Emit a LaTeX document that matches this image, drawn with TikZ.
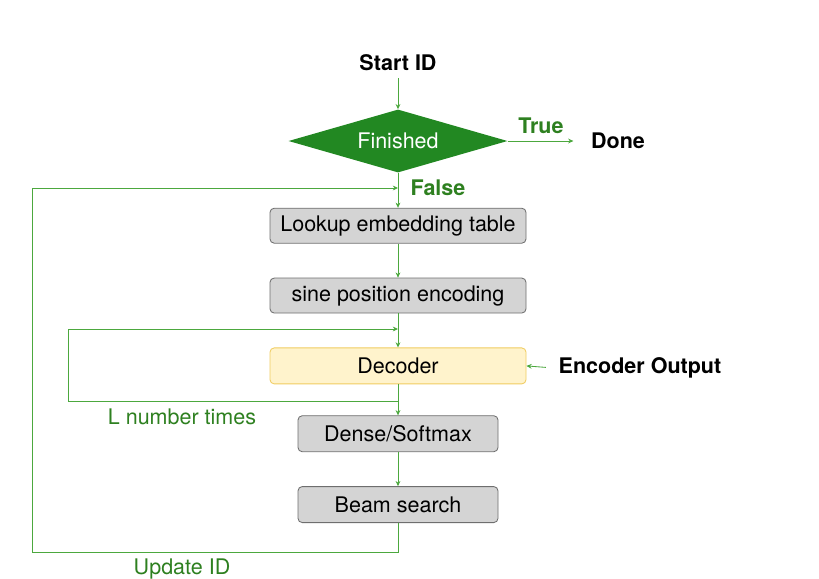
\documentclass[tikz,border=0pt]{standalone}
\usepackage{fontspec}
\setmainfont{TeX Gyre Heros}
\usetikzlibrary{arrows.meta,positioning,shapes.geometric}
\definecolor{lngreen}{RGB}{76,168,62}
\definecolor{diagreen}{RGB}{34,136,34}
\definecolor{labgreen}{RGB}{46,128,32}
\definecolor{boxgray}{RGB}{212,212,212}
\definecolor{boxline}{RGB}{110,110,110}
\definecolor{decfill}{RGB}{255,243,204}
\definecolor{decline}{RGB}{240,204,96}

\begin{document}
\begin{tikzpicture}[
  font=\fontsize{15.3pt}{18pt}\selectfont,
  step box/.style={draw=boxline,line width=0.6pt,rounded corners=3pt,fill=boxgray,
                   minimum width=6.4cm,minimum height=0.875cm,inner sep=0pt},
  small box/.style={step box,minimum width=5cm,minimum height=0.9cm},
  dec box/.style={step box,draw=decline,fill=decfill,minimum height=0.9cm},
  cond/.style={diamond,fill=diagreen,text=white,aspect=3.47,inner sep=0pt,
               minimum width=5.475cm,minimum height=1.575cm},
  lab/.style={text=labgreen},
  ln/.style={draw=lngreen,line width=0.6pt,-{Stealth[length=1.3mm,width=1.2mm]}}]

\useasboundingbox (0,0) rectangle (20.475,-14.45);

\node[font=\fontsize{15.3pt}{18pt}\selectfont\bfseries] (sid) at (9.95,-1.575) {Start ID};
\node[cond] (fin) at (9.95,-3.525) {Finished};
\node[font=\fontsize{15.3pt}{18pt}\selectfont\bfseries] (done) at (15.45,-3.525) {Done};

\node[step box,below=0.875cm of fin] (look) {Lookup embedding table};
\node[step box,below=0.85cm of look] (sine) {sine position encoding};
\node[dec box,below=0.85cm of sine] (dec) {Decoder};
\node[small box,below=0.775cm of dec] (dense) {Dense/Softmax};
\node[small box,below=0.85cm of dense] (beam) {Beam search};
\node[font=\fontsize{15.3pt}{18pt}\selectfont\bfseries] (enc) at (16.0,-9.2) {Encoder Output};

\node[lab,font=\fontsize{15.3pt}{18pt}\selectfont\bfseries] (tru) at (13.525,-3.15) {True};
\node[lab,font=\fontsize{15.3pt}{18pt}\selectfont\bfseries] (fal) at (10.95,-4.7) {False};
\node[lab] (lnum) at (4.55,-10.425) {L number times};
\node[lab] (upd) at (4.55,-14.225) {Update ID};

% loop corners
\coordinate (fj) at (9.95,-4.7);
\coordinate (ub) at (0.8,-13.8);
\coordinate (dj) at (9.95,-10.025);
\coordinate (dl) at (1.7,-8.225);
\coordinate (dt) at (9.95,-8.225);

\draw[ln,shorten <=0.05cm] (sid) -- (fin);
\draw[ln,shorten >=0.32cm] (fin.east) -- (done.west);
\draw[ln] (fin) -- (look);
\draw[ln] (look) -- (sine);
\draw[ln] (sine) -- (dec);
\draw[ln] (dec) -- (dense);
\draw[ln] (dense) -- (beam);
\draw[ln,shorten <=0.2cm] (enc.west) -- (dec.east);
\draw[ln] (beam.south) |- (ub) |- (fj);
\draw[ln] (dj) -| (dl) -- (dt);
\end{tikzpicture}
\end{document}
